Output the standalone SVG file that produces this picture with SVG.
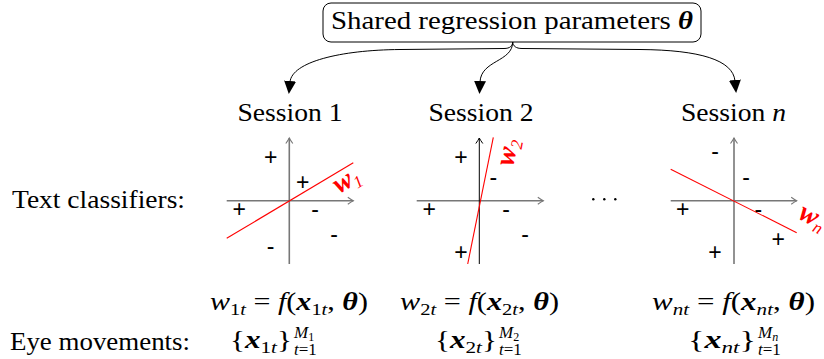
<svg xmlns="http://www.w3.org/2000/svg" width="824" height="359" viewBox="0 0 824 359">
<defs>
<style>
.t{font-family:"Liberation Serif","Times New Roman",serif;font-size:25px;fill:#000}
.i{font-style:italic}
.b{font-style:italic;font-weight:bold}
.s{font-size:17px}
.pm{font-family:"Liberation Sans",Arial,sans-serif;font-size:23px;fill:#000;text-anchor:middle}
.ax{stroke:#777;stroke-width:1.6;fill:none}
.axk{stroke:#000;stroke-width:1;fill:none}
.red{stroke:#ff0000;stroke-width:1.1;fill:none}
.rl{font-family:"Liberation Serif","Times New Roman",serif;font-style:italic;font-weight:bold;font-size:28px;fill:#ff0000}
.conn{stroke:#000;stroke-width:1;fill:none}
</style>
<marker id="tri" markerWidth="14" markerHeight="12" refX="1" refY="6" orient="auto" markerUnits="userSpaceOnUse"><path d="M0,0 L13,6 L0,12 z" fill="#000"/></marker>
<marker id="ag" markerWidth="9" markerHeight="9" refX="7" refY="4.5" orient="auto" markerUnits="userSpaceOnUse"><path d="M1.5,1 Q5,3.5 7,4.5 Q5,5.5 1.5,8" fill="none" stroke="#777" stroke-width="1.1"/></marker>
<marker id="ak" markerWidth="9" markerHeight="9" refX="7" refY="4.5" orient="auto" markerUnits="userSpaceOnUse"><path d="M1.5,1 Q5,3.5 7,4.5 Q5,5.5 1.5,8" fill="none" stroke="#000" stroke-width="1"/></marker>
</defs>
<rect width="824" height="359" fill="#fff"/>

<g id="params">
<rect x="323" y="3" width="378" height="39" rx="8" fill="#fff" stroke="#000" stroke-width="1"/>
<text class="t" x="512" y="29" text-anchor="middle" textLength="362" lengthAdjust="spacingAndGlyphs">Shared regression parameters <tspan class="b">θ</tspan></text>
</g>

<g id="connectors">
<path class="conn" marker-end="url(#tri)" d="M512.7,42 C512.5,46 510,48.5 504,48.5 L400,49.5 C340,50 292,62 290,82"/>
<path class="conn" marker-end="url(#tri)" d="M512.7,42 C512.7,62 481,60 480,82"/>
<path class="conn" marker-end="url(#tri)" d="M512.7,42 C513,46 516,48.5 522,48.5 L640,49.5 C700,50 733,60 735,81"/>
</g>

<g id="session1"><text class="t" x="290" y="121" text-anchor="middle" textLength="105" lengthAdjust="spacingAndGlyphs">Session 1</text></g>
<g id="session2"><text class="t" x="481" y="121" text-anchor="middle" textLength="105" lengthAdjust="spacingAndGlyphs">Session 2</text></g>
<g id="sessionn"><text class="t" x="733.5" y="121" text-anchor="middle" textLength="105" lengthAdjust="spacingAndGlyphs">Session <tspan class="i">n</tspan></text></g>

<g id="label-classifiers"><text class="t" x="12" y="208" textLength="173" lengthAdjust="spacingAndGlyphs">Text classifiers:</text></g>
<g id="label-eye"><text class="t" x="10" y="350" textLength="180" lengthAdjust="spacingAndGlyphs">Eye movements:</text></g>

<g id="plot1">
<line class="ax" x1="226.7" y1="200.7" x2="353.3" y2="200.7" marker-end="url(#ag)"/>
<line class="ax" x1="289.3" y1="264" x2="289.3" y2="138" marker-end="url(#ag)"/>
<line class="red" x1="226.7" y1="238.3" x2="353.3" y2="162.7"/>
<text class="rl" transform="translate(339,194) rotate(-31)">w<tspan class="s" dy="5" font-weight="normal">1</tspan></text>
<text class="pm" x="270.7" y="165">+</text>
<text class="pm" x="302.7" y="190">+</text>
<text class="pm" x="239.3" y="216.5">+</text>
<text class="pm" x="315" y="216.7">-</text>
<text class="pm" x="334" y="242">-</text>
<text class="pm" x="270.7" y="254.3">-</text>
</g>

<g id="plot2">
<line class="ax" x1="416.7" y1="200.7" x2="543.3" y2="200.7" marker-end="url(#ag)"/>
<line class="axk" x1="479.3" y1="264" x2="479.3" y2="138" marker-end="url(#ak)"/>
<line class="red" x1="467.7" y1="264" x2="493.3" y2="137.3"/>
<text class="rl" transform="translate(513,167) rotate(-78.6)">w<tspan class="s" dy="5" font-weight="normal">2</tspan></text>
<text class="pm" x="461" y="165">+</text>
<text class="pm" x="429.3" y="216.5">+</text>
<text class="pm" x="461" y="260">+</text>
<text class="pm" x="493.3" y="185.3">-</text>
<text class="pm" x="506" y="216.7">-</text>
<text class="pm" x="525" y="242">-</text>
</g>

<g id="dots">
<circle cx="593.3" cy="199.3" r="1.2" fill="#000"/>
<circle cx="604.3" cy="199.3" r="1.2" fill="#000"/>
<circle cx="615.3" cy="199.3" r="1.2" fill="#000"/>
</g>

<g id="plotn">
<line class="ax" x1="670.7" y1="200.7" x2="796.7" y2="200.7" marker-end="url(#ag)"/>
<line class="ax" x1="734" y1="264" x2="734" y2="138" marker-end="url(#ag)"/>
<line class="red" x1="670.7" y1="169.3" x2="796.7" y2="232.7"/>
<text class="rl" transform="translate(797,218) rotate(26.7)">w<tspan class="s i" dy="5" font-weight="normal">n</tspan></text>
<text class="pm" x="715" y="159.3">-</text>
<text class="pm" x="746" y="185.3">-</text>
<text class="pm" x="758.3" y="216.7">-</text>
<text class="pm" x="682.7" y="216.5">+</text>
<text class="pm" x="778.3" y="246.5">+</text>
<text class="pm" x="715" y="260">+</text>
</g>

<g id="formula1"><text class="t" x="210" y="310" textLength="158" lengthAdjust="spacingAndGlyphs"><tspan class="i">w</tspan><tspan class="s" dy="5">1<tspan class="i">t</tspan></tspan><tspan dy="-5"> = </tspan><tspan class="i">f</tspan>(<tspan class="b">x</tspan><tspan class="s" dy="5">1<tspan class="i">t</tspan></tspan><tspan dy="-5">, </tspan><tspan class="b">θ</tspan>)</text></g>
<g id="formula2"><text class="t" x="400" y="310" textLength="159" lengthAdjust="spacingAndGlyphs"><tspan class="i">w</tspan><tspan class="s" dy="5">2<tspan class="i">t</tspan></tspan><tspan dy="-5"> = </tspan><tspan class="i">f</tspan>(<tspan class="b">x</tspan><tspan class="s" dy="5">2<tspan class="i">t</tspan></tspan><tspan dy="-5">, </tspan><tspan class="b">θ</tspan>)</text></g>
<g id="formulan"><text class="t" x="652" y="310" textLength="163" lengthAdjust="spacingAndGlyphs"><tspan class="i">w</tspan><tspan class="s i" dy="5">nt</tspan><tspan dy="-5"> = </tspan><tspan class="i">f</tspan>(<tspan class="b">x</tspan><tspan class="s i" dy="5">nt</tspan><tspan dy="-5">, </tspan><tspan class="b">θ</tspan>)</text></g>

<g id="eye1">
<text class="t" x="230" y="348" textLength="62" lengthAdjust="spacingAndGlyphs">{<tspan class="b">x</tspan><tspan class="s" dy="5">1<tspan class="i">t</tspan></tspan><tspan dy="-5">}</tspan></text>
<text class="t s" x="294" y="355"><tspan class="i">t</tspan>=1</text>
<text class="t s" x="294" y="338"><tspan class="i">M</tspan><tspan font-size="12" dy="3">1</tspan></text>
</g>
<g id="eye2">
<text class="t" x="435" y="348" textLength="62" lengthAdjust="spacingAndGlyphs">{<tspan class="b">x</tspan><tspan class="s" dy="5">2<tspan class="i">t</tspan></tspan><tspan dy="-5">}</tspan></text>
<text class="t s" x="499" y="355"><tspan class="i">t</tspan>=1</text>
<text class="t s" x="499" y="338"><tspan class="i">M</tspan><tspan font-size="12" dy="3">2</tspan></text>
</g>
<g id="eyen">
<text class="t" x="688" y="348" textLength="68" lengthAdjust="spacingAndGlyphs">{<tspan class="b">x</tspan><tspan class="s i" dy="5">nt</tspan><tspan dy="-5">}</tspan></text>
<text class="t s" x="758" y="355"><tspan class="i">t</tspan>=1</text>
<text class="t s" x="758" y="338"><tspan class="i">M</tspan><tspan class="i" font-size="12" dy="3">n</tspan></text>
</g>
</svg>
